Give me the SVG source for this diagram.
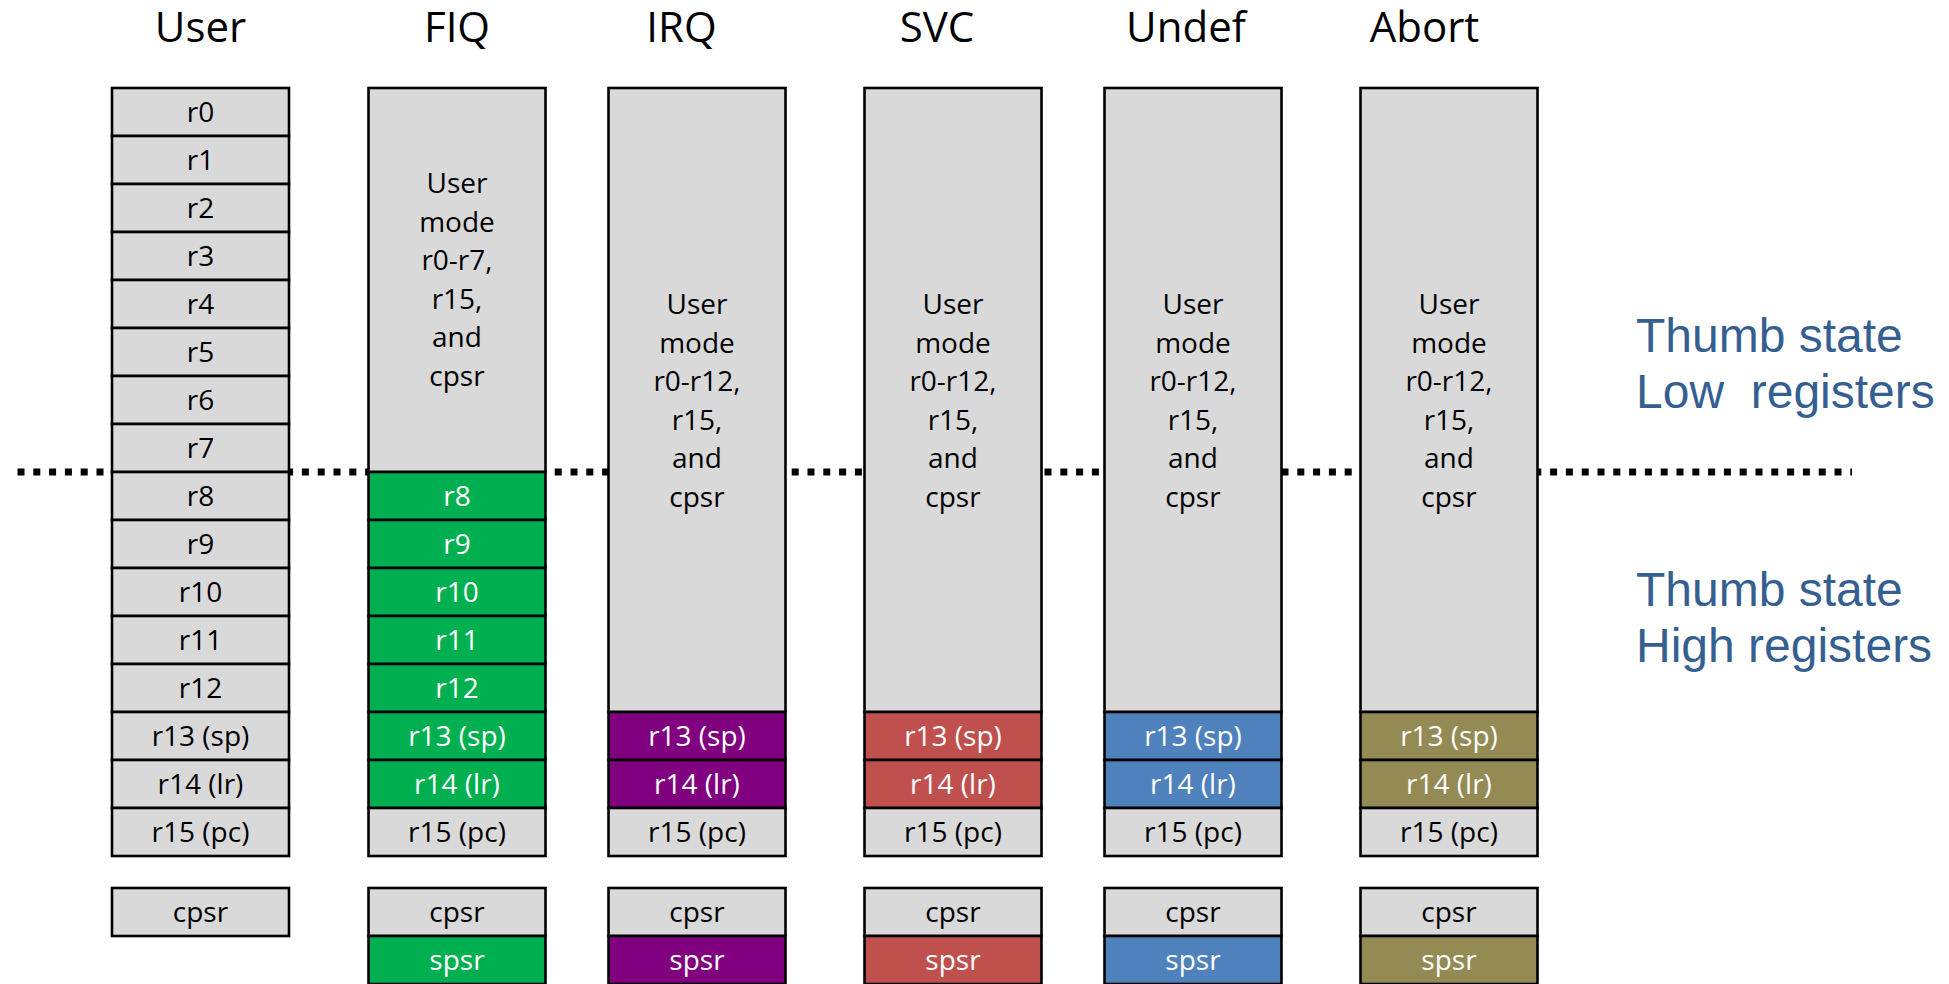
<svg xmlns="http://www.w3.org/2000/svg" width="1949" height="984" viewBox="0 0 1949 984">
  <style>
    .cell { stroke: #000; stroke-width: 2.6; }
    .gray { fill: #D9D9D9; }
    .fiq { fill: #00B050; }
    .irq { fill: #800080; }
    .svc { fill: #C0504D; }
    .und { fill: #4F81BD; }
    .abt { fill: #948A54; }
    .hdr { font-family: "Open Sans", "Liberation Sans", sans-serif; font-size: 42px; text-anchor: middle; fill: #000; }
    .lbl { font-family: "Open Sans", "Liberation Sans", sans-serif; font-size: 28px; text-anchor: middle; fill: #000; }
    .blk { font-family: "Open Sans", "Liberation Sans", sans-serif; font-size: 28px; text-anchor: middle; fill: #000; }
    .w { fill: #fff; }
    .note { font-family: "Liberation Sans", Arial, sans-serif; font-size: 48px; fill: #365F91; }
  </style>
  <rect width="1949" height="984" fill="#fff"/>

  <!-- low / high register boundary -->
  <g id="divider">
    <line x1="17.5" y1="472" x2="1852" y2="472" stroke="#000" stroke-width="7" stroke-dasharray="7 8.8"/>
  </g>

  <!-- User mode -->
  <g id="user">
    <text class="hdr" x="200.5" y="41.7">User</text>
    <rect class="cell gray" x="112" y="88" width="177" height="48"/>
    <rect class="cell gray" x="112" y="136" width="177" height="48"/>
    <rect class="cell gray" x="112" y="184" width="177" height="48"/>
    <rect class="cell gray" x="112" y="232" width="177" height="48"/>
    <rect class="cell gray" x="112" y="280" width="177" height="48"/>
    <rect class="cell gray" x="112" y="328" width="177" height="48"/>
    <rect class="cell gray" x="112" y="376" width="177" height="48"/>
    <rect class="cell gray" x="112" y="424" width="177" height="48"/>
    <rect class="cell gray" x="112" y="472" width="177" height="48"/>
    <rect class="cell gray" x="112" y="520" width="177" height="48"/>
    <rect class="cell gray" x="112" y="568" width="177" height="48"/>
    <rect class="cell gray" x="112" y="616" width="177" height="48"/>
    <rect class="cell gray" x="112" y="664" width="177" height="48"/>
    <rect class="cell gray" x="112" y="712" width="177" height="48"/>
    <rect class="cell gray" x="112" y="760" width="177" height="48"/>
    <rect class="cell gray" x="112" y="808" width="177" height="48"/>
    <rect class="cell gray" x="112" y="888" width="177" height="48"/>
    <text class="lbl" x="200.5" y="122">r0</text>
    <text class="lbl" x="200.5" y="170">r1</text>
    <text class="lbl" x="200.5" y="218">r2</text>
    <text class="lbl" x="200.5" y="266">r3</text>
    <text class="lbl" x="200.5" y="314">r4</text>
    <text class="lbl" x="200.5" y="362">r5</text>
    <text class="lbl" x="200.5" y="410">r6</text>
    <text class="lbl" x="200.5" y="458">r7</text>
    <text class="lbl" x="200.5" y="506">r8</text>
    <text class="lbl" x="200.5" y="554">r9</text>
    <text class="lbl" x="200.5" y="602">r10</text>
    <text class="lbl" x="200.5" y="650">r11</text>
    <text class="lbl" x="200.5" y="698">r12</text>
    <text class="lbl" x="200.5" y="746">r13 (sp)</text>
    <text class="lbl" x="200.5" y="794">r14 (lr)</text>
    <text class="lbl" x="200.5" y="842">r15 (pc)</text>
    <text class="lbl" x="200.5" y="922">cpsr</text>
  </g>

  <!-- FIQ mode -->
  <g id="fiq">
    <text class="hdr" x="457" y="41.7">FIQ</text>
    <rect class="cell gray" x="368.5" y="88" width="177" height="384"/>
    <rect class="cell fiq" x="368.5" y="472" width="177" height="48"/>
    <rect class="cell fiq" x="368.5" y="520" width="177" height="48"/>
    <rect class="cell fiq" x="368.5" y="568" width="177" height="48"/>
    <rect class="cell fiq" x="368.5" y="616" width="177" height="48"/>
    <rect class="cell fiq" x="368.5" y="664" width="177" height="48"/>
    <rect class="cell fiq" x="368.5" y="712" width="177" height="48"/>
    <rect class="cell fiq" x="368.5" y="760" width="177" height="48"/>
    <rect class="cell gray" x="368.5" y="808" width="177" height="48"/>
    <rect class="cell gray" x="368.5" y="888" width="177" height="48"/>
    <rect class="cell fiq" x="368.5" y="936" width="177" height="48"/>
    <text class="blk" x="457" y="193.3">User</text>
    <text class="blk" x="457" y="231.8">mode</text>
    <text class="blk" x="457" y="270.3">r0-r7,</text>
    <text class="blk" x="457" y="308.8">r15,</text>
    <text class="blk" x="457" y="347.3">and</text>
    <text class="blk" x="457" y="385.8">cpsr</text>
    <text class="lbl w" x="457" y="506">r8</text>
    <text class="lbl w" x="457" y="554">r9</text>
    <text class="lbl w" x="457" y="602">r10</text>
    <text class="lbl w" x="457" y="650">r11</text>
    <text class="lbl w" x="457" y="698">r12</text>
    <text class="lbl w" x="457" y="746">r13 (sp)</text>
    <text class="lbl w" x="457" y="794">r14 (lr)</text>
    <text class="lbl" x="457" y="842">r15 (pc)</text>
    <text class="lbl" x="457" y="922">cpsr</text>
    <text class="lbl w" x="457" y="970">spsr</text>
  </g>

  <!-- IRQ mode -->
  <g id="irq">
    <text class="hdr" x="681.5" y="41.7">IRQ</text>
    <rect class="cell gray" x="608.5" y="88" width="177" height="624"/>
    <rect class="cell irq" x="608.5" y="712" width="177" height="48"/>
    <rect class="cell irq" x="608.5" y="760" width="177" height="48"/>
    <rect class="cell gray" x="608.5" y="808" width="177" height="48"/>
    <rect class="cell gray" x="608.5" y="888" width="177" height="48"/>
    <rect class="cell irq" x="608.5" y="936" width="177" height="48"/>
    <text class="blk" x="697" y="314.3">User</text>
    <text class="blk" x="697" y="352.8">mode</text>
    <text class="blk" x="697" y="391.3">r0-r12,</text>
    <text class="blk" x="697" y="429.8">r15,</text>
    <text class="blk" x="697" y="468.3">and</text>
    <text class="blk" x="697" y="506.8">cpsr</text>
    <text class="lbl w" x="697" y="746">r13 (sp)</text>
    <text class="lbl w" x="697" y="794">r14 (lr)</text>
    <text class="lbl" x="697" y="842">r15 (pc)</text>
    <text class="lbl" x="697" y="922">cpsr</text>
    <text class="lbl w" x="697" y="970">spsr</text>
  </g>

  <!-- SVC mode -->
  <g id="svc">
    <text class="hdr" x="937" y="41.7">SVC</text>
    <rect class="cell gray" x="864.5" y="88" width="177" height="624"/>
    <rect class="cell svc" x="864.5" y="712" width="177" height="48"/>
    <rect class="cell svc" x="864.5" y="760" width="177" height="48"/>
    <rect class="cell gray" x="864.5" y="808" width="177" height="48"/>
    <rect class="cell gray" x="864.5" y="888" width="177" height="48"/>
    <rect class="cell svc" x="864.5" y="936" width="177" height="48"/>
    <text class="blk" x="953" y="314.3">User</text>
    <text class="blk" x="953" y="352.8">mode</text>
    <text class="blk" x="953" y="391.3">r0-r12,</text>
    <text class="blk" x="953" y="429.8">r15,</text>
    <text class="blk" x="953" y="468.3">and</text>
    <text class="blk" x="953" y="506.8">cpsr</text>
    <text class="lbl w" x="953" y="746">r13 (sp)</text>
    <text class="lbl w" x="953" y="794">r14 (lr)</text>
    <text class="lbl" x="953" y="842">r15 (pc)</text>
    <text class="lbl" x="953" y="922">cpsr</text>
    <text class="lbl w" x="953" y="970">spsr</text>
  </g>

  <!-- Undefined mode -->
  <g id="undef">
    <text class="hdr" x="1186" y="41.7">Undef</text>
    <rect class="cell gray" x="1104.5" y="88" width="177" height="624"/>
    <rect class="cell und" x="1104.5" y="712" width="177" height="48"/>
    <rect class="cell und" x="1104.5" y="760" width="177" height="48"/>
    <rect class="cell gray" x="1104.5" y="808" width="177" height="48"/>
    <rect class="cell gray" x="1104.5" y="888" width="177" height="48"/>
    <rect class="cell und" x="1104.5" y="936" width="177" height="48"/>
    <text class="blk" x="1193" y="314.3">User</text>
    <text class="blk" x="1193" y="352.8">mode</text>
    <text class="blk" x="1193" y="391.3">r0-r12,</text>
    <text class="blk" x="1193" y="429.8">r15,</text>
    <text class="blk" x="1193" y="468.3">and</text>
    <text class="blk" x="1193" y="506.8">cpsr</text>
    <text class="lbl w" x="1193" y="746">r13 (sp)</text>
    <text class="lbl w" x="1193" y="794">r14 (lr)</text>
    <text class="lbl" x="1193" y="842">r15 (pc)</text>
    <text class="lbl" x="1193" y="922">cpsr</text>
    <text class="lbl w" x="1193" y="970">spsr</text>
  </g>

  <!-- Abort mode -->
  <g id="abort">
    <text class="hdr" x="1424.5" y="41.7">Abort</text>
    <rect class="cell gray" x="1360.5" y="88" width="177" height="624"/>
    <rect class="cell abt" x="1360.5" y="712" width="177" height="48"/>
    <rect class="cell abt" x="1360.5" y="760" width="177" height="48"/>
    <rect class="cell gray" x="1360.5" y="808" width="177" height="48"/>
    <rect class="cell gray" x="1360.5" y="888" width="177" height="48"/>
    <rect class="cell abt" x="1360.5" y="936" width="177" height="48"/>
    <text class="blk" x="1449" y="314.3">User</text>
    <text class="blk" x="1449" y="352.8">mode</text>
    <text class="blk" x="1449" y="391.3">r0-r12,</text>
    <text class="blk" x="1449" y="429.8">r15,</text>
    <text class="blk" x="1449" y="468.3">and</text>
    <text class="blk" x="1449" y="506.8">cpsr</text>
    <text class="lbl w" x="1449" y="746">r13 (sp)</text>
    <text class="lbl w" x="1449" y="794">r14 (lr)</text>
    <text class="lbl" x="1449" y="842">r15 (pc)</text>
    <text class="lbl" x="1449" y="922">cpsr</text>
    <text class="lbl w" x="1449" y="970">spsr</text>
  </g>

  <!-- Thumb state annotations -->
  <g id="thumb-low">
    <text class="note" x="1636" y="352">Thumb state</text>
    <text class="note" x="1636" y="408" xml:space="preserve">Low  registers</text>
  </g>
  <g id="thumb-high">
    <text class="note" x="1636" y="606">Thumb state</text>
    <text class="note" x="1636" y="662">High registers</text>
  </g>
</svg>
